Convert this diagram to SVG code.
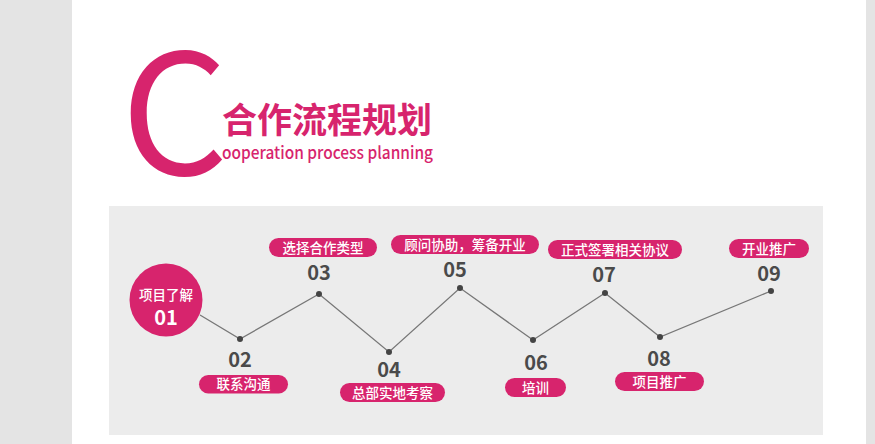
<svg xmlns="http://www.w3.org/2000/svg" width="875" height="444" viewBox="0 0 875 444">
<style>
.pink{fill:#d7246d}
.pill{fill:#d7246d}
.pt{fill:#fff;font-family:"Noto Sans CJK SC","Noto Sans",sans-serif;font-size:13.5px;font-weight:500;text-anchor:middle}
.num{fill:#4a4a4a;font-family:"Noto Sans CJK SC","Open Sans",sans-serif;font-size:20px;font-weight:700;text-anchor:middle}
.dot{fill:#444}
</style>
<rect x="0" y="0" width="875" height="444" fill="#e4e4e4"/>
<rect x="72" y="0" width="794" height="444" fill="#ffffff"/>
<g id="title">
<text x="121" y="175" class="pink" font-family="'Noto Sans CJK SC','Noto Sans',sans-serif" font-size="168" font-weight="400">C</text>
<text x="222" y="133" class="pink" font-family="'Noto Sans CJK SC',sans-serif" font-size="35" font-weight="700" textLength="210">合作流程规划</text>
<text x="222" y="159" class="pink" font-family="'Noto Sans CJK SC','Noto Sans',sans-serif" font-size="17" font-weight="500" textLength="211" lengthAdjust="spacingAndGlyphs">ooperation process planning</text>
</g>
<rect x="109" y="206" width="714" height="229" fill="#ececec"/>
<g id="connectors" fill="none" stroke="#777" stroke-width="1.3">
<polyline points="200,315 240,339 319,294 389,352 460,288 533,340 605,293 660,337 771,291"/>
</g>
<g id="n01">
<circle cx="166" cy="300" r="36.5" class="pink"/>
<text x="166" y="300" class="pt">项目了解</text>
<text x="166" y="325" class="num" font-size="21" style="fill:#fff">01</text>
</g>
<g id="n02">
<circle cx="240" cy="339" r="3" class="dot"/>
<text x="240" y="367" class="num">02</text>
<rect x="199" y="375" width="89" height="18.5" rx="9.25" class="pill"/>
<text x="243.5" y="389" class="pt">联系沟通</text>
</g>
<g id="n03">
<circle cx="319" cy="294" r="3" class="dot"/>
<text x="319" y="280" class="num">03</text>
<rect x="269" y="238" width="108" height="19" rx="9.5" class="pill"/>
<text x="323" y="252.5" class="pt">选择合作类型</text>
</g>
<g id="n04">
<circle cx="389" cy="352" r="3" class="dot"/>
<text x="389" y="377" class="num">04</text>
<rect x="340" y="383" width="105" height="19" rx="9.5" class="pill"/>
<text x="392.5" y="397.5" class="pt">总部实地考察</text>
</g>
<g id="n05">
<circle cx="460" cy="288" r="3" class="dot"/>
<text x="455" y="277" class="num">05</text>
<rect x="391" y="235" width="148" height="19" rx="9.5" class="pill"/>
<text x="465" y="249.5" class="pt">顾问协助，筹备开业</text>
</g>
<g id="n06">
<circle cx="533" cy="340" r="3" class="dot"/>
<text x="536" y="370" class="num">06</text>
<rect x="505" y="378" width="61" height="19" rx="9.5" class="pill"/>
<text x="535.5" y="392.5" class="pt">培训</text>
</g>
<g id="n07">
<circle cx="605" cy="293" r="3" class="dot"/>
<text x="604" y="282" class="num">07</text>
<rect x="548" y="240" width="134" height="19" rx="9.5" class="pill"/>
<text x="615" y="254.5" class="pt">正式签署相关协议</text>
</g>
<g id="n08">
<circle cx="660" cy="337" r="3" class="dot"/>
<text x="659" y="366" class="num">08</text>
<rect x="615" y="372" width="89" height="19" rx="9.5" class="pill"/>
<text x="659.5" y="386.5" class="pt">项目推广</text>
</g>
<g id="n09">
<circle cx="771" cy="291" r="3" class="dot"/>
<text x="769" y="281" class="num">09</text>
<rect x="729" y="239" width="80" height="19" rx="9.5" class="pill"/>
<text x="769" y="253.5" class="pt">开业推广</text>
</g>
</svg>
